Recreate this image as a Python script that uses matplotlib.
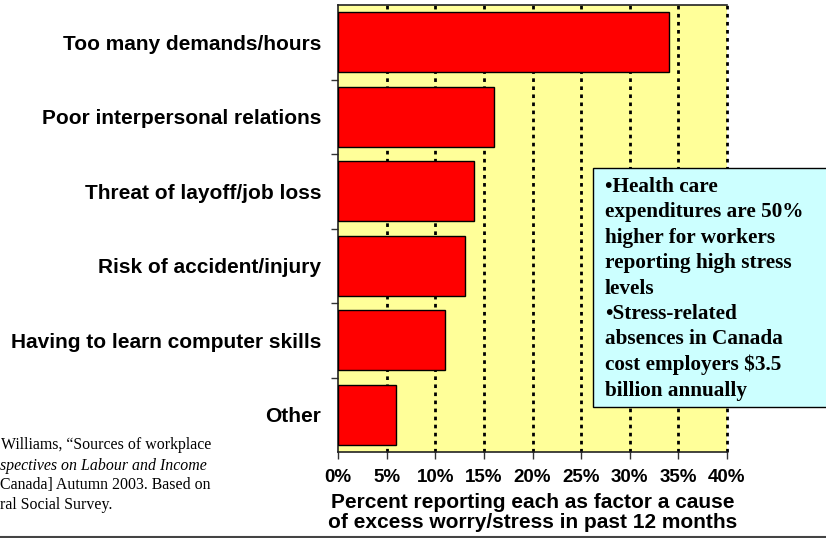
import matplotlib.pyplot as plt
from matplotlib.patches import Rectangle
from matplotlib.lines import Line2D
from matplotlib.ticker import FixedLocator, PercentFormatter

# data
categories = ['Too many demands/hours', 'Poor interpersonal relations',
              'Threat of layoff/job loss', 'Risk of accident/injury',
              'Having to learn computer skills', 'Other']
percent = [34, 16, 14, 13.1, 11, 6]
xticks = [0, 5, 10, 15, 20, 25, 30, 35, 40]

box_text = ('\u2022Health care\nexpenditures are 50%\nhigher for workers\n'
            'reporting high stress\nlevels\n\u2022Stress-related\n'
            'absences in Canada\ncost employers $3.5\nbillion annually')
source_lines = ['Williams, \u201cSources of workplace',
                'spectives on Labour and Income',
                'Canada] Autumn 2003. Based on',
                'ral Social Survey.']

plt.rcParams['font.family'] = ['Liberation Sans', 'DejaVu Sans']

fig = plt.figure(figsize=(8.26, 5.38), dpi=100)
ax = fig.add_axes([338/826, 1 - 452/538, (727-338)/826, (452-5)/538])
ax.set_facecolor('#FFFF99')

ypos = list(range(len(categories)))
ax.barh(ypos, percent, height=0.81, color='#FF0000', edgecolor='black',
        linewidth=1, zorder=3)
ax.set_ylim(len(categories) - 0.5, -0.5)
ax.set_xlim(0, 40)

for x in xticks[1:]:
    ax.axvline(x, color='black', lw=2, linestyle=(0, (1.3, 1.6)), zorder=2, clip_on=False)

ax.set_yticks(ypos)
ax.set_yticklabels(categories, fontsize=15, fontweight='bold')
ax.tick_params(axis='y', which='major', length=0, pad=12)
ax.yaxis.set_minor_locator(FixedLocator([i + 0.5 for i in range(len(categories) - 1)]))
ax.tick_params(axis='y', which='minor', length=5, width=1, color='#333333', direction='out')

ax.set_xticks(xticks)
ax.xaxis.set_major_formatter(PercentFormatter(decimals=0))
ax.tick_params(axis='x', length=5, width=1, color='#333333', labelsize=13.5, pad=7)
for lab in ax.get_xticklabels():
    lab.set_fontweight('bold')

ax.set_xlabel('Percent reporting each as factor a cause\nof excess worry/stress in past 12 months',
              fontsize=15, fontweight='bold', labelpad=5, linespacing=1.12)

ax.spines['right'].set_visible(False)
for s in ['left', 'bottom', 'top']:
    ax.spines[s].set_color('#222222')
    ax.spines[s].set_linewidth(1.2)

# text box
fig.patches.append(Rectangle((593/826, 1 - 407/538), 240/826, (407-168)/538,
                             transform=fig.transFigure, facecolor='#CCFFFF',
                             edgecolor='black', lw=1, zorder=5))
fig.text(605/826, 1 - 177/538, box_text, family=['Liberation Serif', 'DejaVu Serif'],
         fontweight='bold', fontsize=15.3, va='top', ha='left', linespacing=1.36, zorder=6)

# source note, cut off at left edge
ys = [445, 466, 485, 505]
for i, (line, y) in enumerate(zip(source_lines, ys)):
    fig.text(1/826 if i == 0 else 0, 1 - y/538, line,
             family=['Liberation Serif', 'DejaVu Serif'], fontsize=11.4,
             style='italic' if i == 1 else 'normal', va='center', ha='left')

fig.add_artist(Line2D([0, 1], [1 - 536.5/538, 1 - 536.5/538], transform=fig.transFigure,
                      color='#444444', lw=1.5))

fig.savefig('out.png', dpi=100)
